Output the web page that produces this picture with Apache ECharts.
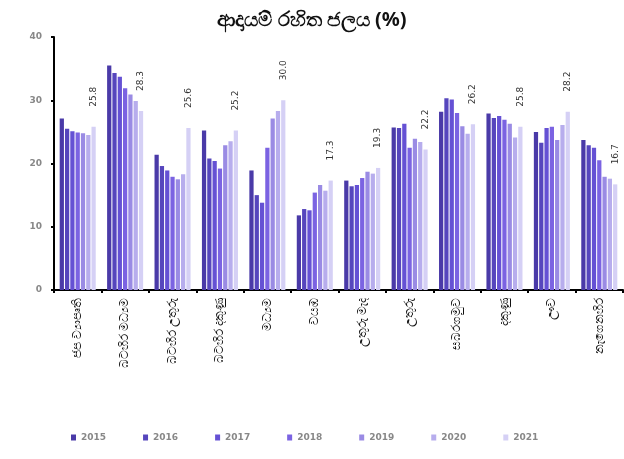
<!DOCTYPE html>
<html>
<head>
<meta charset="utf-8">
<script src="https://cdn.jsdelivr.net/npm/echarts@6/dist/echarts.min.js"></script>
<style>
  html, body { margin: 0; padding: 0; background: #fff; }
  #nrw { width: 624px; height: 459px; }
</style>
</head>
<body>
<div id="nrw"></div>
<script>
// regions
var regions = ['ජප ව්‍යාපෘති', 'බටහිර මධ්‍යම', 'බටහිර උතුරු', 'බටහිර දකුණු', 'මධ්‍යම', 'වයඹ',
               'උතුරු මැද', 'උතුරු', 'සබරගමුව', 'දකුණු', 'ඌව', 'නැගෙනහිර'];
var years = ['2015', '2016', '2017', '2018', '2019', '2020', '2021'];

// non revenue water (%) per year
var v2015 = [27.1, 35.5, 21.4, 25.2, 18.9, 11.8, 17.3, 25.7, 28.2, 27.9, 25.0, 23.7];
var v2016 = [25.5, 34.3, 19.6, 20.8, 15.0, 12.8, 16.4, 25.6, 30.3, 27.2, 23.3, 22.9];
var v2017 = [25.1, 33.7, 18.9, 20.4, 13.8, 12.6, 16.6, 26.3, 30.1, 27.5, 25.6, 22.5];
var v2018 = [24.9, 31.9, 17.9, 19.2, 22.5, 15.4, 17.7, 22.5, 28.0, 26.9, 25.8, 20.5];
var v2019 = [24.8, 30.9, 17.5, 22.9, 27.1, 16.6, 18.7, 23.9, 25.9, 26.3, 23.7, 17.9];
var v2020 = [24.5, 29.9, 18.3, 23.5, 28.3, 15.7, 18.4, 23.4, 24.7, 24.1, 26.1, 17.6];
var v2021 = [25.8, 28.3, 25.6, 25.2, 30.0, 17.3, 19.3, 22.2, 26.2, 25.8, 28.2, 16.7];

var yTicks = [0, 10, 20, 30, 40];

var allValues = [v2015, v2016, v2017, v2018, v2019, v2020, v2021];
var colors = ['#4a3aa8', '#5646bd', '#6551d4', '#7b63e2', '#9a8be4', '#b7aded', '#d5d0f5'];

var chart = echarts.init(document.getElementById('nrw'));

var series = years.map(function (y, i) {
  var s = {
    name: y,
    type: 'bar',
    data: allValues[i],
    barGap: '25%',
    barCategoryGap: '24%',
    itemStyle: { color: colors[i] }
  };
  if (i === years.length - 1) {
    s.label = {
      show: true,
      position: 'top',
      rotate: 90,
      align: 'left',
      verticalAlign: 'middle',
      distance: 20,
      color: '#333',
      fontSize: 9,
      fontFamily: 'DejaVu Sans',
      formatter: function (p) { return p.value.toFixed(1); }
    };
  }
  return s;
});

var option = {
  animation: false,
  color: colors,
  title: {
    text: 'ආදායම් රහිත ජලය (%)',
    left: 'center',
    top: 5,
    textStyle: { fontSize: 20, fontWeight: 'bold', color: '#111', fontFamily: 'Noto Sans, sans-serif' }
  },
  legend: {
    bottom: 12,
    left: 66,
    itemWidth: 5,
    itemHeight: 6,
    itemGap: 37,
    icon: 'rect',
    textStyle: { color: '#888', fontSize: 9, fontWeight: 'bold', fontFamily: 'DejaVu Sans' },
    data: years
  },
  grid: { left: 54, right: 1, top: 37, bottom: 169 },
  xAxis: {
    type: 'category',
    data: regions,
    axisLine: { lineStyle: { color: '#000', width: 2 } },
    axisTick: { show: true, inside: false, length: 3, lineStyle: { color: '#000', width: 2 } },
    axisLabel: { rotate: 90, fontSize: 12, color: '#111', margin: 8, interval: 0 }
  },
  yAxis: {
    type: 'value',
    min: yTicks[0],
    max: yTicks[yTicks.length - 1],
    interval: 10,
    splitLine: { show: false },
    axisLine: { show: true, lineStyle: { color: '#000', width: 2 } },
    axisTick: { show: true, length: 3, lineStyle: { color: '#000', width: 2 } },
    axisLabel: { color: '#888', fontSize: 9, fontWeight: 'bold', margin: 12, fontFamily: 'DejaVu Sans' }
  },
  series: series
};

chart.setOption(option);
</script>
</body>
</html>
